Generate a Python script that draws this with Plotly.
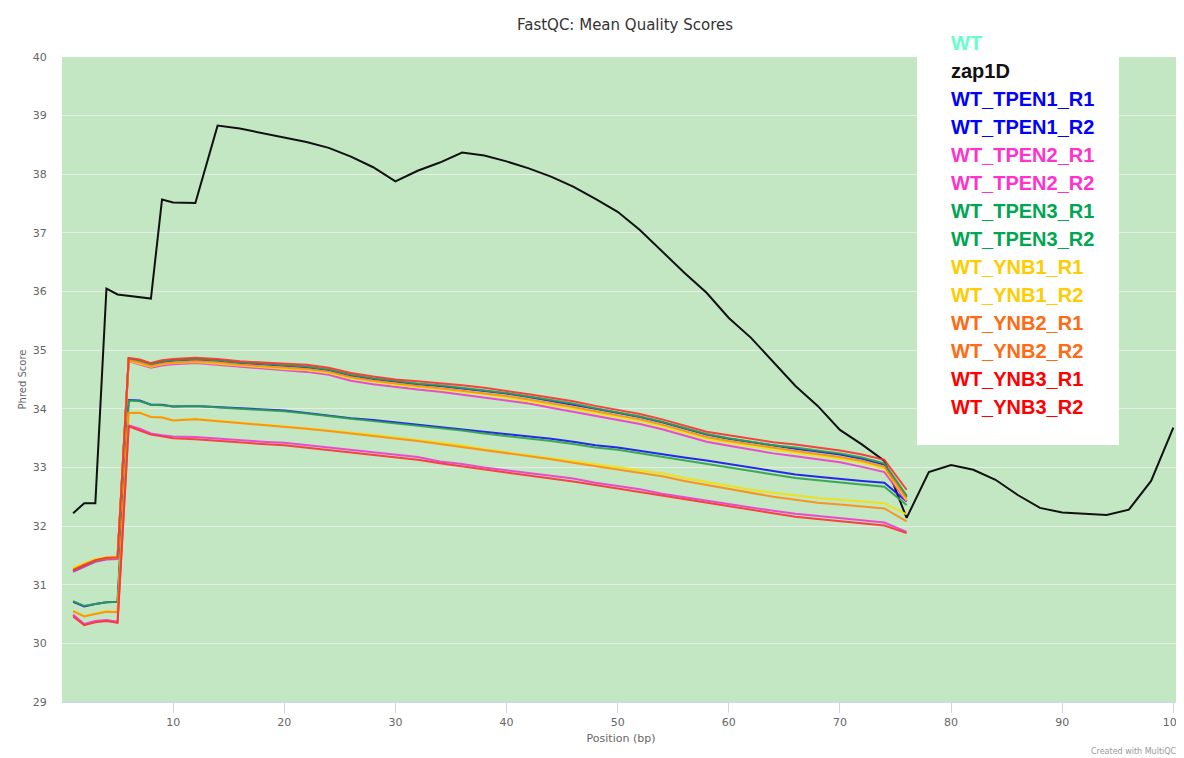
import plotly.graph_objects as go

# ---------------- data ----------------
POS_SAMPLES = [1, 2, 3, 4, 5, 6, 7, 8, 9, 10, 12, 14, 16, 18, 20, 22, 24, 26, 28, 30,
               32, 34, 36, 38, 40, 42, 44, 46, 48, 50, 52, 54, 56, 58, 60, 62, 64, 66,
               68, 70, 72, 74, 76]
POS_ZAP1D = [1, 2, 3, 4, 5, 6, 7, 8, 9, 10, 12, 14, 16, 18, 20, 22, 24, 26, 28, 30,
             32, 34, 36, 38, 40, 42, 44, 46, 48, 50, 52, 54, 56, 58, 60, 62, 64, 66,
             68, 70, 72, 74, 76, 78, 80, 82, 84, 86, 88, 90, 92, 94, 96, 98, 100]

zap1D = [32.22, 32.39, 32.39, 36.05, 35.95, 35.93, 35.91, 35.88, 37.57, 37.52, 37.51,
         38.83, 38.78, 38.70, 38.62, 38.55, 38.45, 38.30, 38.12, 37.88, 38.06, 38.20,
         38.37, 38.32, 38.22, 38.10, 37.96, 37.79, 37.58, 37.36, 37.05, 36.68, 36.32,
         35.98, 35.55, 35.21, 34.80, 34.39, 34.05, 33.64, 33.39, 33.11, 32.14, 32.92,
         33.04, 32.96, 32.79, 32.53, 32.31, 32.23, 32.21, 32.19, 32.28, 32.77, 33.68]

WT_TPEN1_R1 = [31.23, 31.32, 31.40, 31.44, 31.45, 34.85, 34.81, 34.75, 34.80, 34.82, 34.84,
               34.82, 34.78, 34.76, 34.73, 34.71, 34.66, 34.57, 34.51, 34.46, 34.42, 34.39,
               34.35, 34.31, 34.26, 34.20, 34.14, 34.07, 34.00, 33.93, 33.86, 33.77, 33.66,
               33.56, 33.49, 33.43, 33.37, 33.32, 33.27, 33.22, 33.15, 33.05, 32.50]
WT_TPEN1_R2 = [30.71, 30.63, 30.67, 30.70, 30.71, 34.15, 34.14, 34.07, 34.07, 34.04, 34.05,
               34.03, 34.01, 33.99, 33.97, 33.93, 33.88, 33.84, 33.81, 33.77, 33.73, 33.70,
               33.66, 33.61, 33.57, 33.53, 33.49, 33.44, 33.38, 33.34, 33.28, 33.23, 33.17,
               33.12, 33.06, 32.99, 32.93, 32.88, 32.84, 32.80, 32.77, 32.74, 32.42]
WT_TPEN2_R1 = [31.22, 31.31, 31.39, 31.43, 31.44, 34.81, 34.76, 34.70, 34.74, 34.76, 34.78,
               34.75, 34.71, 34.68, 34.65, 34.63, 34.58, 34.48, 34.42, 34.37, 34.33, 34.29,
               34.24, 34.20, 34.15, 34.09, 34.02, 33.95, 33.88, 33.81, 33.74, 33.65, 33.54,
               33.44, 33.37, 33.30, 33.24, 33.19, 33.14, 33.09, 33.01, 32.92, 32.42]
WT_TPEN2_R2 = [30.49, 30.33, 30.38, 30.40, 30.37, 33.72, 33.66, 33.58, 33.55, 33.53, 33.52,
               33.49, 33.46, 33.44, 33.42, 33.38, 33.34, 33.30, 33.27, 33.23, 33.18, 33.10,
               33.06, 33.00, 32.95, 32.90, 32.86, 32.81, 32.74, 32.69, 32.63, 32.55, 32.49,
               32.44, 32.38, 32.32, 32.26, 32.21, 32.17, 32.13, 32.09, 32.06, 31.90]
WT_TPEN3_R1 = [31.24, 31.33, 31.41, 31.45, 31.46, 34.85, 34.82, 34.76, 34.81, 34.83, 34.85,
               34.83, 34.79, 34.77, 34.74, 34.72, 34.67, 34.58, 34.52, 34.47, 34.43, 34.40,
               34.36, 34.32, 34.27, 34.21, 34.15, 34.09, 34.01, 33.94, 33.87, 33.78, 33.67,
               33.57, 33.50, 33.44, 33.38, 33.34, 33.29, 33.24, 33.17, 33.07, 32.52]
WT_TPEN3_R2 = [30.72, 30.64, 30.67, 30.70, 30.71, 34.14, 34.13, 34.07, 34.06, 34.04, 34.05,
               34.02, 34.00, 33.98, 33.96, 33.92, 33.87, 33.83, 33.79, 33.75, 33.71, 33.68,
               33.63, 33.58, 33.54, 33.50, 33.45, 33.40, 33.34, 33.30, 33.24, 33.18, 33.12,
               33.07, 33.01, 32.94, 32.88, 32.82, 32.78, 32.74, 32.70, 32.67, 32.36]
WT_YNB1_R1 = [31.29, 31.37, 31.44, 31.47, 31.48, 34.82, 34.77, 34.72, 34.76, 34.78, 34.80,
              34.77, 34.73, 34.71, 34.68, 34.66, 34.61, 34.52, 34.46, 34.41, 34.37, 34.33,
              34.29, 34.25, 34.19, 34.13, 34.07, 34.00, 33.93, 33.86, 33.79, 33.70, 33.59,
              33.49, 33.42, 33.36, 33.30, 33.25, 33.20, 33.15, 33.08, 32.98, 32.44]
WT_YNB1_R2 = [30.56, 30.47, 30.51, 30.55, 30.54, 33.93, 33.94, 33.86, 33.86, 33.80, 33.83,
              33.80, 33.77, 33.74, 33.71, 33.67, 33.63, 33.60, 33.56, 33.51, 33.47, 33.42,
              33.38, 33.31, 33.26, 33.21, 33.16, 33.11, 33.05, 33.00, 32.95, 32.90, 32.82,
              32.75, 32.68, 32.62, 32.57, 32.52, 32.48, 32.45, 32.42, 32.39, 32.20]
WT_YNB2_R1 = [31.26, 31.35, 31.42, 31.45, 31.46, 34.83, 34.79, 34.73, 34.77, 34.79, 34.81,
              34.79, 34.75, 34.73, 34.70, 34.68, 34.63, 34.54, 34.48, 34.43, 34.39, 34.35,
              34.31, 34.27, 34.22, 34.16, 34.10, 34.03, 33.96, 33.89, 33.82, 33.73, 33.62,
              33.52, 33.45, 33.39, 33.33, 33.28, 33.23, 33.18, 33.11, 33.01, 32.47]
WT_YNB2_R2 = [30.55, 30.46, 30.50, 30.54, 30.53, 33.93, 33.93, 33.86, 33.85, 33.80, 33.82,
              33.79, 33.76, 33.73, 33.70, 33.66, 33.62, 33.58, 33.54, 33.50, 33.45, 33.40,
              33.35, 33.29, 33.24, 33.19, 33.14, 33.08, 33.02, 32.97, 32.91, 32.85, 32.77,
              32.70, 32.63, 32.56, 32.50, 32.45, 32.40, 32.37, 32.33, 32.30, 32.08]
WT_YNB3_R1 = [31.25, 31.34, 31.42, 31.46, 31.47, 34.87, 34.84, 34.78, 34.83, 34.85, 34.87,
              34.85, 34.81, 34.79, 34.77, 34.75, 34.70, 34.61, 34.55, 34.50, 34.47, 34.44,
              34.40, 34.36, 34.31, 34.25, 34.19, 34.13, 34.05, 33.98, 33.91, 33.82, 33.71,
              33.61, 33.55, 33.49, 33.43, 33.39, 33.34, 33.29, 33.22, 33.13, 32.62]
WT_YNB3_R2 = [30.46, 30.31, 30.36, 30.38, 30.35, 33.70, 33.63, 33.56, 33.53, 33.50, 33.48,
              33.45, 33.42, 33.40, 33.38, 33.34, 33.30, 33.26, 33.22, 33.18, 33.13, 33.07,
              33.02, 32.96, 32.91, 32.86, 32.81, 32.76, 32.70, 32.64, 32.58, 32.51, 32.45,
              32.39, 32.33, 32.27, 32.21, 32.16, 32.12, 32.08, 32.04, 32.01, 31.88]

SAMPLE_NAMES = ["WT_TPEN1_R1", "WT_TPEN1_R2", "WT_TPEN2_R1", "WT_TPEN2_R2",
                "WT_TPEN3_R1", "WT_TPEN3_R2", "WT_YNB1_R1", "WT_YNB1_R2",
                "WT_YNB2_R1", "WT_YNB2_R2", "WT_YNB3_R1", "WT_YNB3_R2"]
SAMPLE_VALUES = [WT_TPEN1_R1, WT_TPEN1_R2, WT_TPEN2_R1, WT_TPEN2_R2,
                 WT_TPEN3_R1, WT_TPEN3_R2, WT_YNB1_R1, WT_YNB1_R2,
                 WT_YNB2_R1, WT_YNB2_R2, WT_YNB3_R1, WT_YNB3_R2]

LEGEND_NAMES = ["WT", "zap1D"] + SAMPLE_NAMES
Y_TICKS = list(range(29, 41))
X_TICKS = list(range(10, 101, 10))

# ---------------- styles ----------------
LINE_COLORS = {"TPEN1": "#1515f0", "TPEN2": "#f03ad0", "TPEN3": "#2ea24a",
               "YNB1": "#f2e20a", "YNB2": "#ff8c10", "YNB3": "#ff3030"}
TEXT_COLORS = {"WT": "#66ffcc", "zap1D": "#111111", "TPEN1": "#0000ff",
               "TPEN2": "#ff33cc", "TPEN3": "#00a650", "YNB1": "#ffcc00",
               "YNB2": "#ff6a13", "YNB3": "#ff0000"}


def key_of(name):
    parts = name.split("_")
    return parts[1] if len(parts) > 1 else name


# the page body adds an 8px offset; the figure is sized to fill the rest of the window
OFF = 8
W, H = 1184 - OFF, 758 - OFF
PL, PT, PR, PB = 62, 57, 1180, 702   # plot area in window pixels
L, T = PL - OFF, PT - OFF
R, B = W - (PR - OFF), H - (PB - OFF)
PW, PH = W - L - R, H - T - B


def px_to_paper(xp, yp):
    """window pixel -> paper coordinates"""
    return (xp - PL) / PW, (PB - yp) / PH


FONT = "DejaVu Sans, Verdana, Arial, sans-serif"

fig = go.Figure()

fig.add_trace(go.Scatter(x=POS_ZAP1D, y=zap1D, mode="lines", name="zap1D",
                         line=dict(color="#111111", width=2)))
for name, vals in zip(SAMPLE_NAMES, SAMPLE_VALUES):
    fig.add_trace(go.Scatter(x=POS_SAMPLES, y=vals, mode="lines", name=name,
                             line=dict(color=LINE_COLORS[key_of(name)], width=2),
                             opacity=0.9))

# legend box (white panel) with coloured bold labels
bx0, by0 = px_to_paper(917, 445)
bx1, _ = px_to_paper(1119, 0)
fig.add_shape(type="rect", xref="paper", yref="paper", x0=bx0, x1=bx1, y0=by0, y1=1.06,
              fillcolor="white", line=dict(width=0), layer="above")

annotations = []
for i, nm in enumerate(LEGEND_NAMES):
    ax, ay = px_to_paper(949, 43 + i * 28.0)
    annotations.append(dict(xref="paper", yref="paper", x=ax, y=ay, xanchor="left",
                             yanchor="middle", showarrow=False,
                             text="<b>%s</b>" % nm,
                             font=dict(family="Liberation Sans, Arial, sans-serif",
                                       size=20, color=TEXT_COLORS[key_of(nm)])))
cx, cy = px_to_paper(1089, 751)
annotations.append(dict(xref="paper", yref="paper", x=cx, y=cy, xanchor="left",
                        yanchor="middle", showarrow=False, text="Created with MultiQC",
                        font=dict(family=FONT, size=8, color="#999999")))

tx, _ = px_to_paper(625, 0)
fig.update_layout(
    width=W, height=H,
    margin=dict(l=L, r=R, t=T, b=B, autoexpand=False),
    paper_bgcolor="white",
    plot_bgcolor="#c3e6c3",
    showlegend=False,
    title=dict(text="FastQC: Mean Quality Scores", x=tx, xref="paper",
               y=1 - (25 - OFF) / H, yanchor="middle", xanchor="center",
               font=dict(family=FONT, size=15, color="#333333")),
    font=dict(family=FONT, color="#666666"),
    annotations=annotations,
    xaxis=dict(range=[0, 100.6], tickvals=X_TICKS, ticktext=[str(v) for v in X_TICKS],
               automargin=False,
               showgrid=False, zeroline=False, showline=True, linecolor="#ccd6eb",
               linewidth=1, ticks="outside", ticklen=10, tickcolor="#ccd6eb",
               tickfont=dict(size=11, color="#666666"),
               title=dict(text="Position (bp)", font=dict(size=11, color="#666666"),
                          standoff=6)),
    yaxis=dict(range=[29, 40], tickvals=Y_TICKS, ticktext=[str(v) for v in Y_TICKS],
               automargin=False,
               showgrid=True, gridcolor="#e6ece6", gridwidth=1, zeroline=False,
               showline=False, ticks="outside", ticklen=12, tickcolor="rgba(0,0,0,0)",
               tickfont=dict(size=11, color="#666666"),
               title=dict(text="Phred Score", font=dict(size=10, color="#666666"),
                          standoff=4)),
)

fig.write_html("out.html")
